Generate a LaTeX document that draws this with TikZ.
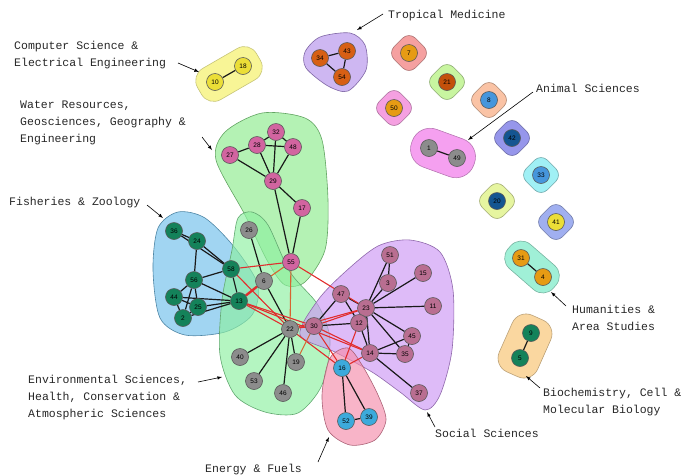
\documentclass[tikz,border=0pt]{standalone}
\usepackage{fontspec}
\setmainfont{Liberation Mono}
\newfontfamily\numfont{Liberation Sans}
\usetikzlibrary{arrows}

\pgfdeclarelayer{blobs}
\pgfdeclarelayer{edges}
\pgfsetlayers{blobs,edges,main}

\definecolor{waterfill}{RGB}{140,235,140}
\definecolor{fishfill}{RGB}{110,190,235}
\definecolor{envfill}{RGB}{140,240,160}
\definecolor{socfill}{RGB}{205,150,245}
\definecolor{energyfill}{RGB}{245,140,170}
\definecolor{tropfill}{RGB}{180,145,235}
\definecolor{csfill}{RGB}{248,245,150}
\definecolor{animfill}{RGB}{245,160,240}
\definecolor{humfill}{RGB}{160,240,215}
\definecolor{biofill}{RGB}{250,215,160}
\definecolor{salmonfill}{RGB}{245,160,160}
\definecolor{limefill}{RGB}{200,245,160}
\definecolor{peachfill}{RGB}{250,195,165}
\definecolor{rosefill}{RGB}{245,160,225}
\definecolor{violetfill}{RGB}{150,150,235}
\definecolor{cyanfill}{RGB}{160,240,245}
\definecolor{straw}{RGB}{230,245,160}
\definecolor{periwinkle}{RGB}{160,175,240}

\definecolor{pinkv}{RGB}{210,100,160}
\definecolor{mauvev}{RGB}{185,110,145}
\definecolor{greenv}{RGB}{20,130,90}
\definecolor{grayv}{RGB}{140,140,140}
\definecolor{bluev}{RGB}{60,170,220}
\definecolor{rustv}{RGB}{215,95,20}
\definecolor{amberv}{RGB}{230,155,20}
\definecolor{brickv}{RGB}{195,80,10}
\definecolor{skyv}{RGB}{70,150,220}
\definecolor{navyv}{RGB}{20,85,145}
\definecolor{lemonv}{RGB}{235,222,55}
\definecolor{redline}{RGB}{225,45,45}
\definecolor{orangeline}{RGB}{215,100,50}

\tikzstyle{vertex}=[circle,draw=black!65,line width=0.6pt,minimum size=17pt,inner sep=0pt,font=\numfont\fontsize{6.5}{7}\selectfont]
\tikzstyle{edge} = [draw,line width=1.2pt,black!90]
\tikzstyle{crossedge} = [draw,line width=1.1pt,redline]
\tikzstyle{blob}=[draw,line width=0.6pt,fill opacity=0.65]
\tikzstyle{single}=[draw,line width=0.6pt,rounded corners=9pt,minimum size=30pt,inner sep=0pt,rotate=45]
\tikzstyle{capsule}=[draw,line width=0.6pt,inner sep=0pt]
\tikzstyle{fieldname}=[font=\fontsize{11.5}{17}\selectfont,text=black!85,align=left,anchor=north west,inner sep=0pt]
\tikzstyle{pointer}=[draw,-latex,line width=0.6pt]

\begin{document}
\begin{tikzpicture}[x=1pt,y=-1pt]

    \useasboundingbox (0,0) rectangle (685,475);

    % vertices
    \foreach \x/\y/\c/\name in {276/132/pinkv/32, 257/145/pinkv/28, 293/147/pinkv/48, 230/155/pinkv/27, 273/181/pinkv/29,
                                302/208/pinkv/17, 291/262/pinkv/55,
                                390/255/mauvev/51, 423/273/mauvev/15, 388/283/mauvev/3, 341/294/mauvev/47, 366/308/mauvev/23,
                                433/306/mauvev/11, 314/326/mauvev/30, 359/323/mauvev/12, 412/336/mauvev/45, 370/353/mauvev/14,
                                405/354/mauvev/35, 419/393/mauvev/37,
                                174/231/greenv/36, 197/241/greenv/24, 231/269/greenv/58, 194/280/greenv/56, 174/297/greenv/44,
                                198/307/greenv/25, 183/318/greenv/2, 239/301/greenv/13,
                                249/230/grayv/26, 264/281/grayv/6, 290/329/grayv/22, 240/357/grayv/40, 254/381/grayv/53,
                                296/362/grayv/19, 283/393/grayv/46,
                                342/368/bluev/16, 346/421/bluev/52, 369/417/bluev/39,
                                215/82/lemonv/10, 243/66/lemonv/18, 320/58/rustv/34, 347/51/rustv/43, 342/77/rustv/54,
                                409/53/amberv/7, 447/82/brickv/21, 489/100/skyv/8, 394/108/amberv/50,
                                429/148/grayv/1, 457/158/grayv/49, 512/138/navyv/42, 541/175/skyv/33, 497/201/navyv/20,
                                556/222/lemonv/41, 521/258/amberv/31, 543/277/amberv/4, 531/333/greenv/9, 520/358/greenv/5}
        \node[vertex, fill=\c] (n\name) at (\x,\y) {\name};

    % subject field areas
    \begin{pgfonlayer}{blobs}
    \path[blob, fill=waterfill, draw=waterfill!70!black] plot[smooth cycle] coordinates
        {(225,132) (262,113) (305,118) (322,140) (328,200) (325,250) (305,282) (285,285) (268,262) (245,215) (216,160)};
    \path[blob, fill=fishfill, draw=fishfill!70!black] plot[smooth cycle] coordinates
        {(158,228) (178,212) (205,218) (235,248) (258,285) (252,315) (225,332) (185,335) (160,318) (153,270)};
    \path[blob, fill=envfill, draw=envfill!70!black] plot[smooth cycle] coordinates
        {(238,218) (252,212) (268,225) (290,272) (318,305) (330,340) (322,385) (298,413) (265,412) (235,395) (220,355) (222,300) (232,250)};
    \path[blob, fill=socfill, draw=socfill!70!black] plot[smooth cycle] coordinates
        {(300,335) (318,300) (345,272) (378,246) (410,240) (440,252) (453,290) (452,350) (440,395) (425,410) (400,392) (372,372) (335,352)};
    \path[blob, fill=energyfill, draw=energyfill!70!black] plot[smooth cycle] coordinates
        {(330,358) (348,348) (362,365) (378,395) (386,420) (375,440) (350,445) (328,430) (322,395)};
    \path[blob, fill=tropfill, draw=tropfill!70!black] plot[smooth cycle] coordinates
        {(305,52) (320,37) (350,33) (365,45) (366,70) (348,91) (328,86) (306,68)};

    \node[capsule, fill=csfill, draw=csfill!80!black, minimum width=68pt, minimum height=36pt, rounded corners=14pt, rotate=30] (bcs) at (229,74) {};
    \node[capsule, fill=animfill, draw=animfill!75!black, minimum width=66pt, minimum height=40pt, rounded corners=19pt, rotate=-20] (banim) at (443,153) {};
    \node[capsule, fill=humfill, draw=humfill!75!black, minimum width=60pt, minimum height=32pt, rounded corners=14pt, rotate=-41] (bhum) at (532,267) {};
    \node[capsule, fill=biofill, draw=biofill!75!black, minimum width=62pt, minimum height=42pt, rounded corners=15pt, rotate=66] (bbio) at (525,346) {};

    \foreach \x/\y/\c/\name in {409/53/salmonfill/7, 447/82/limefill/21, 489/100/peachfill/8, 394/108/rosefill/50,
                                512/138/violetfill/42, 541/175/cyanfill/33, 497/201/straw/20, 556/222/periwinkle/41}
        \node[single, fill=\c, draw=\c!70!black] (b\name) at (\x,\y) {};
    \end{pgfonlayer}

    % edges
    \begin{pgfonlayer}{edges}
    \foreach \source/ \dest in {34/43, 43/54, 34/54, 10/18, 1/49, 31/4, 9/5,
                                32/28, 32/48, 28/48, 27/28, 27/29, 28/29, 32/29, 48/29, 29/17, 29/55, 17/55,
                                36/24, 24/58, 36/58, 24/56, 56/58, 56/44, 56/25, 56/2, 56/13, 44/25, 44/2, 44/13,
                                25/2, 25/13, 2/13, 58/13,
                                26/6, 6/22, 22/40, 22/53, 22/46, 22/19,
                                51/3, 51/23, 3/23, 15/23, 11/23, 47/23, 47/30, 47/12, 30/12, 12/23, 23/14,
                                23/45, 23/35, 12/14, 14/45, 14/35, 45/35, 14/37,
                                16/52, 16/39, 52/39}
        \path[edge] (n\source) -- (n\dest);

    \foreach \source/ \dest in {55/58, 55/23, 58/22, 13/22, 13/30, 13/14, 22/30, 22/23, 22/16, 30/16, 30/14, 30/23, 12/16, 14/16}
        \path[crossedge] (n\source) -- (n\dest);
    \foreach \source/ \dest in {55/6, 55/22, 30/19}
        \path[crossedge, orangeline] (n\source) -- (n\dest);
    \path[crossedge, line width=2.4pt] (n6) -- (n13);
    \end{pgfonlayer}

    % field names
    \node[fieldname] (lcs) at (14,41) {Computer Science \&\\Electrical Engineering};
    \node[fieldname] (ltrop) at (388,10) {Tropical Medicine};
    \node[fieldname] (lwater) at (20,101) {Water Resources,\\Geosciences, Geography \&\\Engineering};
    \node[fieldname] (lfish) at (9,197) {Fisheries \& Zoology};
    \node[fieldname] (lanim) at (536,84) {Animal Sciences};
    \node[fieldname] (lhum) at (572,305) {Humanities \&\\Area Studies};
    \node[fieldname] (lbio) at (543,388) {Biochemistry, Cell \&\\Molecular Biology};
    \node[fieldname] (lsoc) at (435,429) {Social Sciences};
    \node[fieldname] (lenergy) at (205,464) {Energy \& Fuels};
    \node[fieldname] (lenv) at (28,375) {Environmental Sciences,\\Health, Conservation \&\\Atmospheric Sciences};

    \foreach \name/\ax/\ay/\bx/\by in {cs/178/63/199/72, trop/383/14/357/30, water/202/137/212/150, fish/147/205/163/218,
                                       anim/533/92/468/140, hum/566/306/551/292, bio/540/388/526/376, soc/435/427/427/412,
                                       energy/318/462/329/437, env/198/382/222/377}
    {
        \coordinate (\name from) at (\ax,\ay);
        \coordinate (\name to) at (\bx,\by);
        \path[pointer] (\name from) -- (\name to);
    }

\end{tikzpicture}
\end{document}
